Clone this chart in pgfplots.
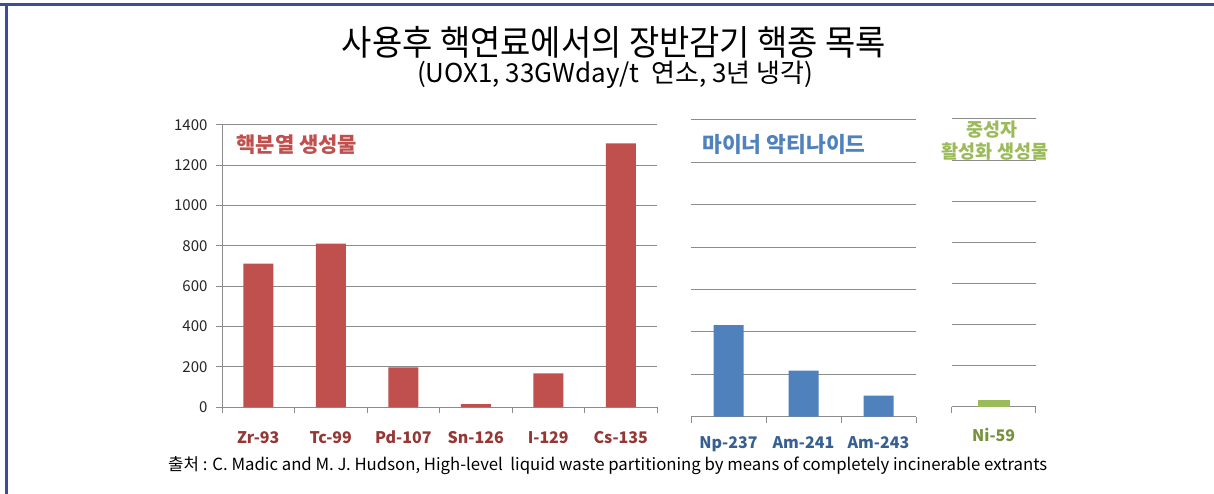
\documentclass[border=0pt]{standalone}
\usepackage{pgfplots}
\pgfplotsset{compat=1.18}
\usepackage{fontspec}
\setmainfont{Noto Sans CJK KR}
\definecolor{redbar}{RGB}{192,80,77}
\definecolor{bluebar}{RGB}{79,129,189}
\definecolor{greenbar}{RGB}{155,187,89}
\definecolor{labred}{RGB}{149,55,53}
\definecolor{labblue}{RGB}{55,96,146}
\definecolor{labgreen}{RGB}{118,146,60}
\definecolor{gridgray}{RGB}{140,140,140}
\definecolor{framecol}{RGB}{62,78,150}
\pgfplotsset{
  panel/.style={
    scale only axis, ybar,
    ymin=0, ymax=1400, ytick={0,200,...,1400},
    ymajorgrids, major grid style={gridgray, line width=1pt},
    axis x line*=bottom,
    axis y line*=left,
    x axis line style={gridgray, line width=1pt, -},
    tick align=outside,
    major x tick style={draw=none},
    minor tick style={gridgray, line width=1pt},
    minor tick length=6pt,
    major tick length=6pt,
    /pgf/number format/assume math mode=true,
    /pgf/number format/1000 sep={},
    xticklabel style={font=\bfseries\fontsize{16}{17}\selectfont, anchor=base, yshift=-30pt},
    every axis plot/.append style={draw=none},
  }
}
\begin{document}
\begin{tikzpicture}
\path[use as bounding box] (0pt,0pt) rectangle (1214pt,-494pt);
\fill[white] (0pt,0pt) rectangle (1214pt,-494pt);
\draw[framecol, line width=3pt] (0pt,-5pt) -- (1214pt,-5pt);
\draw[framecol, line width=3pt] (6pt,-5pt) -- (6pt,-494pt);

\node at (614pt,-42pt) {\scalebox{0.94}[1]{\fontsize{35}{36}\selectfont 사용후 핵연료에서의 장반감기 핵종 목록}};
\node[font=\fontsize{26}{28}\selectfont] at (615pt,-75pt) {(UOX1, 33GWday/t\ \ 연소, 3년 냉각)};

% Panel 1: fission products
\begin{axis}[panel,
  at={(222pt,-407pt)}, anchor=south west,
  width=435pt, height=282pt,
  y axis line style={gridgray, line width=1pt, -},
  ytick style={gridgray, line width=1pt},
  yticklabel style={font=\fontsize{15}{16}\selectfont, text=black!85, xshift=-5pt},
  xmin=-0.5, xmax=5.5,
  xtick={0,...,5},
  xticklabels={Zr-93,Tc-99,Pd-107,Sn-126,I-129,Cs-135},
  minor xtick={-0.5,0.5,1.5,2.5,3.5,4.5,5.5},
  xticklabel style={text=labred},
  bar width=30pt,
]
\addplot[fill=redbar] coordinates {(0,712) (1,811) (2,197) (3,14) (4,167) (5,1309)};
\node[anchor=west, font=\bfseries\fontsize{21}{22}\selectfont, text=redbar] at (rel axis cs:0.025,0.93) {핵분열 생성물};
\end{axis}

% Panel 2: minor actinides
\begin{axis}[panel,
  at={(691pt,-416.7pt)}, anchor=south west,
  width=225pt, height=296.7pt,
  y axis line style={draw=none},
  yticklabels={},
  ytick style={draw=none},
  xmin=-0.5, xmax=2.5,
  xtick={0,1,2},
  xticklabels={Np-237,Am-241,Am-243},
  minor xtick={-0.5,0.5,1.5,2.5},
  xticklabel style={text=labblue, yshift=4pt},
  bar width=30pt,
]
\addplot[fill=bluebar] coordinates {(0,432) (1,217) (2,100)};
\node[anchor=west, font=\bfseries\fontsize{21.5}{22}\selectfont, text=bluebar] at (rel axis cs:0.035,0.918) {마이너 악티나이드};
\end{axis}

% Panel 3: activation products
\begin{axis}[panel,
  at={(951.7pt,-406.7pt)}, anchor=south west,
  width=84pt, height=287.7pt,
  y axis line style={draw=none},
  yticklabels={},
  ytick style={draw=none},
  xmin=-0.5, xmax=0.5,
  xtick={0},
  xticklabels={Ni-59},
  minor xtick={-0.5,0.5},
  xticklabel style={text=labgreen, yshift=1pt},
  bar width=32pt,
]
\addplot[fill=greenbar] coordinates {(0,33)};
\end{axis}
\node[inner sep=1pt, font=\bfseries\fontsize{18.5}{19}\selectfont, text=greenbar] at (992pt,-130pt) {중성자};
\node[inner sep=1pt, font=\bfseries\fontsize{18.5}{19}\selectfont, text=greenbar] at (995pt,-152pt) {활성화 생성물};

\node[anchor=west, inner sep=0pt] at (168pt,-466pt) {\resizebox{879pt}{!}{\fontsize{14}{16}\selectfont 출처 : C. Madic and M. J. Hudson, High-level\ \ liquid waste partitioning by means of completely incinerable extrants}};
\end{tikzpicture}
\end{document}
